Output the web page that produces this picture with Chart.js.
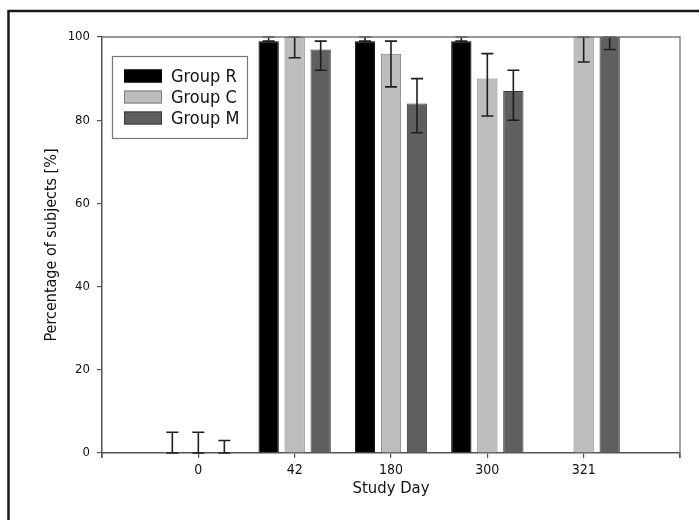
<!DOCTYPE html>
<html>
<head>
<meta charset="utf-8">
<script src="https://cdn.jsdelivr.net/npm/chart.js@4"></script>
<style>
  html, body { margin: 0; padding: 0; background: #fff; }
  canvas { display: block; }
</style>
</head>
<body>
<canvas id="c" width="699" height="520"></canvas>
<script>
// ---- data ----
const categories = ['0', '42', '180', '300', '321'];
const seriesNames = ['Group R', 'Group C', 'Group M'];
const groupR = [0, 99, 99, 99, null];
const groupC = [0, 100, 96, 90, 100];
const groupM = [0, 97, 84, 87, 100];
const errLowR  = [0, 99, 99, 99, null];
const errHighR = [5, 100, 100, 100, null];
const errLowC  = [0, 95, 88, 81, 94];
const errHighC = [5, 100, 99, 96, 100];
const errLowM  = [0, 92, 77, 80, 97];
const errHighM = [3, 99, 90, 92, 100];
const yTicks = [0, 20, 40, 60, 80, 100];

const FONT = "'Liberation Sans Narrow', 'DejaVu Sans Condensed', 'Roboto Condensed', sans-serif";
const TEXT = '#111111';

// padded category list: an empty slot on each side
const labels = [''].concat(categories, ['']);
const pad = arr => [null].concat(arr, [null]);

const errs = [
  { low: pad(errLowR), high: pad(errHighR) },
  { low: pad(errLowC), high: pad(errHighC) },
  { low: pad(errLowM), high: pad(errHighM) }
];

const errorBars = {
  id: 'errorBars',
  afterDatasetsDraw(chart) {
    const ctx = chart.ctx;
    const y = chart.scales.y;
    const area = chart.chartArea;
    ctx.save();
    ctx.beginPath();
    ctx.rect(area.left - 1, area.top - 1, area.right - area.left + 2, area.bottom - area.top + 2);
    ctx.clip();
    ctx.strokeStyle = '#1e1e1e';
    ctx.lineWidth = 1.6;
    chart.data.datasets.forEach((ds, i) => {
      const meta = chart.getDatasetMeta(i);
      const e = errs[i];
      meta.data.forEach((el, j) => {
        const lo = e.low[j], hi = e.high[j];
        if (lo == null || hi == null) return;
        const x = el.x;
        const y1 = y.getPixelForValue(lo), y2 = y.getPixelForValue(hi);
        const cw = 6;
        ctx.beginPath();
        ctx.moveTo(x, y1); ctx.lineTo(x, y2);
        ctx.moveTo(x - cw, y1); ctx.lineTo(x + cw, y1);
        ctx.moveTo(x - cw, y2); ctx.lineTo(x + cw, y2);
        ctx.stroke();
      });
    });
    ctx.restore();
  }
};

const frame = {
  id: 'frame',
  beforeDraw(chart) {
    const ctx = chart.ctx;
    ctx.save();
    ctx.fillStyle = '#fff';
    ctx.fillRect(0, 0, chart.width, chart.height);
    ctx.strokeStyle = '#1a1a1a';
    ctx.lineWidth = 2.5;
    ctx.strokeRect(8.5, 11, chart.width + 20, chart.height + 20);
    ctx.restore();
  },
  afterDraw(chart) {
    const ctx = chart.ctx;
    const a = chart.chartArea;
    ctx.save();
    ctx.strokeStyle = '#777';
    ctx.lineWidth = 1.3;
    ctx.beginPath();
    ctx.moveTo(a.left, a.top); ctx.lineTo(a.right, a.top); ctx.lineTo(a.right, a.bottom);
    ctx.stroke();
    // end ticks below axis
    ctx.strokeStyle = '#555';
    ctx.beginPath();
    ctx.moveTo(a.right, a.bottom); ctx.lineTo(a.right, a.bottom + 5);
    ctx.moveTo(a.left, a.bottom); ctx.lineTo(a.left, a.bottom + 5);
    ctx.stroke();

    // legend box
    const bx = 112, by = 56, bw = 135, bh = 82;
    ctx.strokeStyle = '#777';
    ctx.lineWidth = 1.2;
    ctx.fillStyle = '#fff';
    ctx.fillRect(bx, by, bw, bh);
    ctx.strokeRect(bx + 0.5, by + 0.5, bw, bh);
    chart.data.datasets.forEach((ds, i) => {
      const cy = 76 + i * 21;
      ctx.fillStyle = ds.backgroundColor;
      ctx.fillRect(124, cy - 6.5, 38, 13);
      ctx.strokeStyle = ds.borderColor;
      ctx.lineWidth = 1;
      ctx.strokeRect(124.5, cy - 6, 37, 12);
      ctx.fillStyle = TEXT;
      ctx.font = '18px ' + FONT;
      ctx.textBaseline = 'middle';
      ctx.textAlign = 'left';
      ctx.fillText(ds.label, 171, cy + 1);
    });
    ctx.restore();
  }
};

new Chart(document.getElementById('c'), {
  type: 'bar',
  data: {
    labels: labels,
    datasets: [
      { label: seriesNames[0], data: pad(groupR), backgroundColor: '#000000', borderColor: '#000000', borderWidth: 1 },
      { label: seriesNames[1], data: pad(groupC), backgroundColor: '#bdbdbd', borderColor: '#7d7d7d', borderWidth: 1 },
      { label: seriesNames[2], data: pad(groupM), backgroundColor: '#5f5f5f', borderColor: '#3a3a3a', borderWidth: 1 }
    ]
  },
  options: {
    responsive: false,
    animation: false,
    events: [],
    layout: { padding: { left: 0, right: 19, top: 37, bottom: 0 } },
    datasets: { bar: { categoryPercentage: 0.81, barPercentage: 0.78 } },
    plugins: { legend: { display: false }, tooltip: { enabled: false } },
    scales: {
      x: {
        type: 'category',
        offset: false,
        grid: { display: true, offset: false, drawOnChartArea: false, tickLength: 5, color: '#555', lineWidth: 1.2 },
        border: { display: true, color: '#555', width: 1.5 },
        ticks: { color: TEXT, font: { family: FONT, size: 14 }, padding: 4, maxRotation: 0, autoSkip: false },
        title: { display: true, text: 'Study Day', color: TEXT, font: { family: FONT, size: 16.5 }, padding: { top: 0, bottom: 21 } },
        afterFit(scale) { scale.height = 67; }
      },
      y: {
        min: 0, max: 100,
        afterBuildTicks(scale) { scale.ticks = yTicks.map(v => ({ value: v })); },
        grid: { display: true, drawOnChartArea: false, tickLength: 5, color: '#555', lineWidth: 1.2 },
        border: { display: true, color: '#555', width: 1.5 },
        ticks: { color: TEXT, font: { family: FONT, size: 13 }, padding: 7 },
        title: { display: true, text: 'Percentage of subjects [%]', color: TEXT, font: { family: FONT, size: 16 }, padding: { top: 42, bottom: 0 } },
        afterFit(scale) { scale.width = 102; }
      }
    }
  },
  plugins: [frame, errorBars]
});
</script>
</body>
</html>
